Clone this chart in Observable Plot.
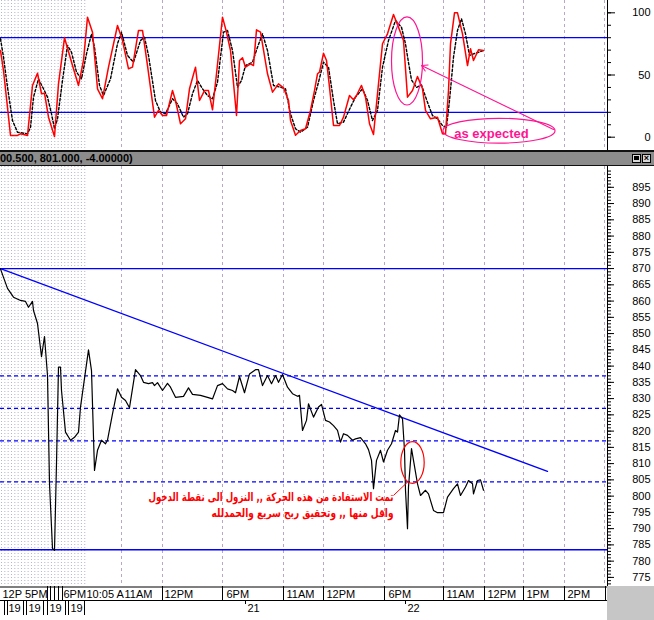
<!DOCTYPE html>
<html><head><meta charset="utf-8">
<script src="https://cdn.jsdelivr.net/npm/d3@7"></script>
<script src="https://cdn.jsdelivr.net/npm/@observablehq/plot@0.6"></script>
<style>
body{margin:0;background:#fff;}
#wrap{position:relative;width:654px;height:620px;overflow:hidden;background:#fff;font-family:"Liberation Sans",Arial,sans-serif;}
.abs{position:absolute;}
#hdr{left:0;top:150px;width:654px;height:16px;box-sizing:border-box;background:#8c8c8c;border-top:2px solid #111;border-bottom:1px solid #111;font:bold 11px "Liberation Sans",Arial,sans-serif;line-height:13px;color:#000;white-space:nowrap;overflow:hidden;}
#corner{left:607px;top:586px;width:47px;height:34px;background:#c6c6c6;}
.btn{position:absolute;top:2px;width:9px;height:9px;box-sizing:border-box;border:1px solid #000;background:#d8d8d8;font:bold 9px/7px Arial,sans-serif;text-align:center;}
svg{overflow:visible;}
</style></head><body><div id="wrap">
<div id="top" class="abs" style="left:0;top:0"></div>
<div id="hdr" class="abs">00.500, 801.000, -4.00000)<div class="btn" style="left:632px"><div style="margin:1px;width:5px;height:4px;background:#000"></div></div><div class="btn" style="left:642px">×</div></div>
<div id="bottom" class="abs" style="left:0;top:166px"></div>
<div id="strip" class="abs" style="left:0;top:586px"></div>
<div id="corner" class="abs"></div>
</div>
<script>
// ---- data (bar position along the time axis, value) ----
const xDomain = [0, 607];

const priceBar = [0,3,7,13,20,25,28,32,33,37,41,44,47,49,52,54,56,58,60,61,65,70,74,78,80,88,91,94,97,101,105,107,112,117,121,125,129,135,140,143,148,152,154,157,162,167,170,175,183,188,192,200,207,212,217,222,227,232,235,239,244,249,255,258,262,267,271,275,278,282,287,292,297,299,302,306,308,313,318,321,325,329,333,337,340,343,347,352,355,360,365,368,371,373,376,380,383,387,391,395,397,399,402,404,405,407,408,411,413,417,420,425,428,433,437,443,447,453,457,460,465,468,472,473,477,480,483];
const priceValue = [869.9,867.3,863.9,861.2,860.2,859.9,858.1,859.9,857.1,853.1,842.9,849.1,837.1,803.9,783.9,783.3,810.1,839.7,839.7,832.5,819.7,817.2,818.1,819.7,827.4,845.0,838.6,807.9,814.1,817.2,816.1,817.2,825.3,833.0,830.4,829.4,827.2,838.9,837.1,835.0,834.6,834.9,834.0,834.9,832.5,834.7,833.5,830.4,830.7,833.3,831.3,831.0,830.4,829.9,834.0,834.6,833.0,832.5,831.8,836.8,831.8,837.6,838.9,838.9,834.0,837.1,834.6,837.1,835.0,837.4,833.5,831.5,830.7,831.0,820.2,823.3,828.4,824.3,827.4,828.2,823.3,822.8,821.7,820.2,816.6,819.2,818.7,817.2,817.6,818.0,816.1,814.3,811.0,802.3,811.0,814.1,810.5,814.1,816.1,820.2,819.7,825.0,823.8,814.1,801.8,790.0,802.8,814.6,811.0,803.8,800.2,801.8,800.7,795.6,794.9,794.9,799.7,802.3,803.8,800.2,802.8,804.8,803.8,800.7,804.8,805.0,801.8];

const oscBar = [0,3,10,17,20,27,32,37,41,44,48,54,58,64,72,78,83,87,92,97,102,108,117,122,128,132,138,142,147,154,158,162,166,172,175,180,185,189,195,199,204,208,212,216,222,226,230,236,239,242,245,250,253,256,260,267,272,278,283,288,290,295,300,305,310,314,317,319,323,326,329,333,339,343,349,353,356,361,365,369,373,377,382,387,393,398,403,407,412,417,422,425,430,437,442,445,448,450,454,457,462,467,470,473,478,483];
const oscK = [69.7,53.6,1.4,1.4,2.7,1.4,41.6,51.4,34.9,35.4,16.1,0.6,42.9,79.9,57.6,41.6,61.7,96.5,84.4,38.9,30.9,56.3,89.8,77.7,55.0,56.3,85.8,85.8,57.6,16.1,21.5,17.4,17.4,37.5,29.5,10.8,14.8,38.9,56.3,29.5,37.5,37.5,22.0,51.0,96.5,84.4,69.7,17.4,61.7,63.8,56.3,59.0,57.6,86.3,84.4,51.0,36.2,42.9,39.7,29.5,13.4,1.5,5.4,6.8,21.5,37.5,51.0,52.3,67.5,61.7,40.2,9.4,9.4,16.1,33.5,30.1,33.5,41.6,32.2,10.8,2.2,34.9,75.1,83.1,98.6,88.4,77.7,32.2,37.5,48.8,38.9,21.5,14.8,16.1,2.7,2.7,37.5,75.1,100,100,83.1,57.6,71.1,61.7,70.3,69.7];

const sigBar = [0,3,7,12,17,27,30,33,38,43,47,51,54,57,62,67,71,76,81,86,91,94,99,103,110,117,121,127,133,140,144,148,155,160,165,172,177,183,187,192,197,202,207,212,217,223,227,232,237,241,245,252,257,262,267,273,280,285,290,295,300,307,313,318,323,328,333,337,343,350,355,362,367,372,377,382,388,395,401,405,408,411,416,421,427,432,437,442,446,449,453,457,461,465,469,473,478,483];
const sigD = [79.1,64.3,40.2,13.4,4.0,2.7,8.0,32.2,46.9,38.9,32.2,18.8,6.8,14.8,45.6,73.7,68.3,52.3,46.9,67.0,83.1,72.3,41.6,33.5,46.9,75.1,84.4,65.7,60.3,77.7,80.4,65.7,29.5,20.1,18.8,30.9,26.8,16.1,18.8,34.9,45.6,38.9,33.5,30.9,44.2,84.4,85.8,69.7,40.2,45.6,57.6,60.3,72.3,83.1,69.7,41.6,40.2,38.9,18.8,6.8,4.0,8.0,29.5,44.2,60.3,56.3,29.5,10.8,12.1,24.1,32.2,38.9,29.5,13.4,21.5,56.3,77.7,93.8,88.4,75,60,46,40,42,28,17.4,14.8,9.4,8.0,29.5,64.3,85.8,95.2,83.1,65.7,67.0,68.3,69.7];

const oscBands = [80, 20];
const oscMajor = [0, 50, 100];
const oscMinor = [0,10,20,30,40,50,60,70,80,90,100];

const dashedLevels = [837, 827, 817, 804.4];
const solidLevels = [870, 783.5];
const trendBar = [0, 547];
const trendValue = [870, 807.6];
const priceMajor = d3.range(775, 896, 5);
const priceMinor = d3.range(773, 901, 1);

const gridBars = [121, 162, 222, 283, 323, 384, 443, 484, 523, 564, 604];
const denseGrid = d3.range(1, 86, 3.33);

const timeSeps = [47, 50, 54, 58, 62, 162, 222, 283, 323, 384, 443, 484, 523, 564, 605];
const timeLabelBar = [2, 63, 86, 124, 164, 226, 286, 326, 388, 446, 487, 526, 567];
const timeLabelText = ["12P 5PM", "6PM", "10:05 A", "11AM", "12PM", "6PM", "11AM", "12PM", "6PM", "11AM", "12PM", "1PM", "2PM"];
const dateSeps = [4, 7, 23, 26, 43, 47, 65, 68, 84];
const dateLabelBar = [8, 28, 49, 70, 247, 407];
const dateLabelText = ["19", "19", "19", "19", "21", "22"];
const dayTicks = [245, 405];

// annotations
const topEllipses = [{t: 407, v: 60.9, rt: 15.5, rv: 35.4}, {t: 499, v: 4.8, rt: 56, rv: 10.0}];
const topArrow = [{t1: 553, v1: 6.2, t2: 421, v2: 57.6}];
const topNote = [{t: 491, v: 3.0, label: "as expected"}];
const bottomEllipses = [{t: 412.5, v: 810.2, rt: 11.7, rv: 6.4}];
const bottomLink = [{t1: 393, v1: 800.2, t2: 407, v2: 804.3}];
const arabicNote = [
  {t: 393, v: 799.6, label: "تمت الاستفادة من هذه الحركة ,, النزول الى نقطة الدخول"},
  {t: 393, v: 794.7, label: "واقل منها ,, وتحقيق ربح سريع والحمدلله"}
];
const arabicNoteWidths = [245, 182];

// ---- helpers ----
const zip2 = (a, b) => a.map((t, i) => ({t, v: b[i]}));
const price = zip2(priceBar, priceValue);
const osc = zip2(oscBar, oscK);
const sig = zip2(sigBar, sigD);
const trend = zip2(trendBar, trendValue);
const timeLabels = timeLabelBar.map((t, i) => ({t, label: timeLabelText[i]}));
const dateLabels = dateLabelBar.map((t, i) => ({t, label: dateLabelText[i]}));

const NS = "http://www.w3.org/2000/svg";
function ellipses(items, color) {
  return (index, scales) => {
    const g = document.createElementNS(NS, "g");
    for (const e of items) {
      const cx = scales.x(e.t), cy = scales.y(e.v);
      const rx = Math.abs(scales.x(e.t + e.rt) - cx);
      const ry = Math.abs(scales.y(e.v + e.rv) - cy);
      const el = document.createElementNS(NS, "ellipse");
      el.setAttribute("cx", cx); el.setAttribute("cy", cy);
      el.setAttribute("rx", rx); el.setAttribute("ry", ry);
      el.setAttribute("fill", "none"); el.setAttribute("stroke", color);
      el.setAttribute("stroke-width", 1.2);
      g.appendChild(el);
    }
    return g;
  };
}

const gridMarks = [
  Plot.ruleX(denseGrid, {stroke: "#b4b4cc", strokeDasharray: "1,2"}),
  Plot.ruleX(gridBars, {stroke: "#b8a8c8", strokeDasharray: "3,3"})
];
const style = {fontFamily: "Liberation Sans, Arial, sans-serif", fontSize: "11px", background: "transparent", overflow: "visible", color: "#000"};

// ---- top panel (oscillator) ----
const topPlot = Plot.plot({
  width: 654, height: 150, marginLeft: 0, marginRight: 47, marginTop: 0, marginBottom: 0,
  style,
  x: {domain: xDomain, axis: null},
  y: {domain: [-10.7, 109.9]},
  marks: [
    ...gridMarks,
    Plot.ruleY(oscBands, {stroke: "#0000ff", strokeWidth: 1.3}),
    Plot.line(sig, {x: "t", y: "v", stroke: "#000", strokeWidth: 1.4, strokeDasharray: "2.5,2"}),
    Plot.line(osc, {x: "t", y: "v", stroke: "#ff0000", strokeWidth: 1.5}),
    ellipses(topEllipses, "#ff1493"),
    Plot.arrow(topArrow, {x1: "t1", y1: "v1", x2: "t2", y2: "v2", stroke: "#ff1493", strokeWidth: 1.1, headLength: 9}),
    Plot.text(topNote, {x: "t", y: "v", text: "label", fill: "#ff1493", fontWeight: "bold", fontSize: 13}),
    Plot.ruleX([xDomain[1]], {stroke: "#000"}),
    Plot.axisY({anchor: "right", ticks: oscMinor, tickSize: 3, tickFormat: () => "", label: null}),
    Plot.axisY({anchor: "right", ticks: oscMajor, tickSize: 7, tickFormat: () => "", label: null}),
    Plot.text(oscMajor, {y: d => d, text: d => String(d), frameAnchor: "right", dx: 43, textAnchor: "end", fill: "#000"})
  ]
});
document.getElementById("top").appendChild(topPlot);

// ---- bottom panel (price) ----
const bottomPlot = Plot.plot({
  width: 654, height: 420, marginLeft: 0, marginRight: 47, marginTop: 0, marginBottom: 0,
  style,
  x: {domain: xDomain, axis: null},
  y: {domain: [772.2, 901.4]},
  marks: [
    ...gridMarks,
    Plot.ruleY(dashedLevels, {stroke: "#0000ff", strokeWidth: 1.2, strokeDasharray: "4,3"}),
    Plot.ruleY(solidLevels, {stroke: "#0000ff", strokeWidth: 1.3}),
    Plot.line(trend, {x: "t", y: "v", stroke: "#0000ff", strokeWidth: 1.3}),
    Plot.line(price, {x: "t", y: "v", stroke: "#000", strokeWidth: 1.2}),
    ellipses(bottomEllipses, "#ff0000"),
    Plot.link(bottomLink, {x1: "t1", y1: "v1", x2: "t2", y2: "v2", stroke: "#ff0000", strokeWidth: 1}),
    Plot.text(arabicNote, {x: "t", y: "v", text: "label", textAnchor: "end", fill: "#ff0000", fontWeight: "bold", fontSize: 11.5, fontFamily: "DejaVu Sans", className: "arabic-note"}),
    Plot.ruleX([xDomain[1]], {stroke: "#000"}),
    Plot.axisY({anchor: "right", ticks: priceMinor, tickSize: 3, tickFormat: () => "", label: null}),
    Plot.axisY({anchor: "right", ticks: priceMajor, tickSize: 6, tickFormat: () => "", label: null}),
    Plot.text(priceMajor, {y: d => d, text: d => String(d), frameAnchor: "right", dx: 43, textAnchor: "end", fill: "#000"})
  ]
});
bottomPlot.querySelectorAll(".arabic-note text").forEach((el, i) => {
  el.setAttribute("textLength", arabicNoteWidths[i]);
  el.setAttribute("lengthAdjust", "spacingAndGlyphs");
});
document.getElementById("bottom").appendChild(bottomPlot);

// ---- time axis strip ----
const strip = Plot.plot({
  width: 654, height: 34, marginLeft: 0, marginRight: 47, marginTop: 0, marginBottom: 0,
  style,
  x: {domain: xDomain, axis: null},
  y: {domain: [0, 34], range: [0, 34], axis: null},
  marks: [
    Plot.ruleY([0.5, 14], {stroke: "#000"}),
    Plot.ruleX(timeSeps, {y1: 0, y2: 14, stroke: "#000"}),
    Plot.text(timeLabels, {x: "t", y: 7.5, text: "label", textAnchor: "start", fill: "#000"}),
    Plot.ruleX(dateSeps, {y1: 14, y2: 29, stroke: "#000"}),
    Plot.ruleX(dayTicks, {y1: 14, y2: 18, stroke: "#000"}),
    Plot.text(dateLabels, {x: "t", y: 22, text: "label", textAnchor: "start", fill: "#000"})
  ]
});
document.getElementById("strip").appendChild(strip);
</script>
</body></html>
